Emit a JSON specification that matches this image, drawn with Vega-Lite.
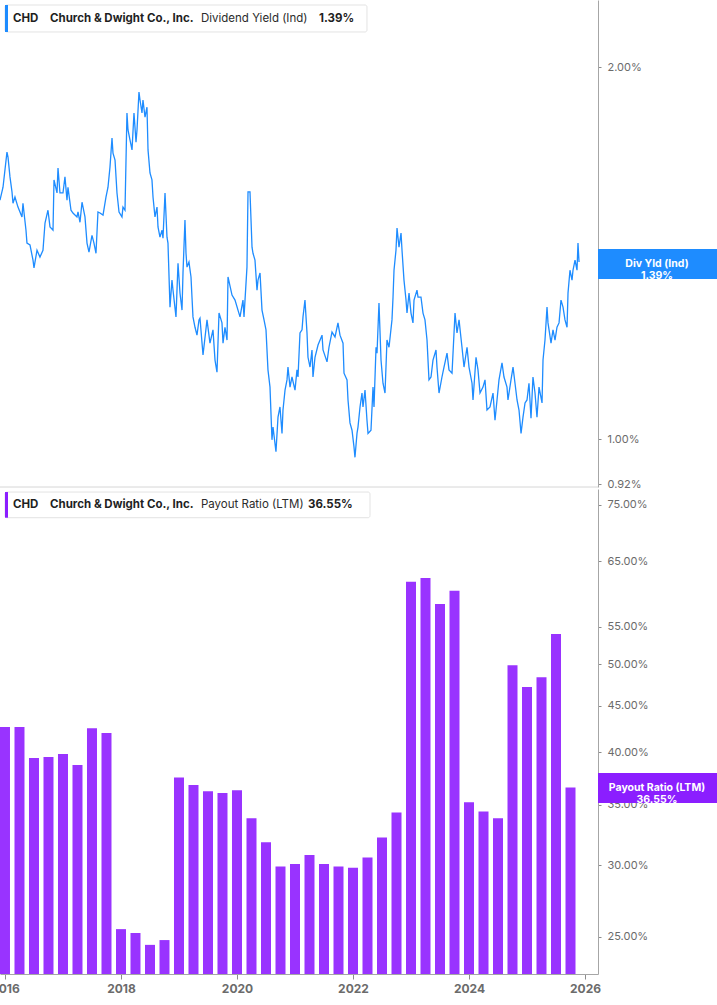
{
  "$schema": "https://vega.github.io/schema/vega-lite/v6.json",
  "width": 598,
  "height": 974,
  "autosize": {"type": "none"},
  "padding": {"left": 0, "top": 0, "right": 119, "bottom": 31},
  "background": "white",
  "config": {"view": {"stroke": null}, "font": "Inter", "axis": {"grid": false}},
  "datasets": {
    "yield": [
      {"t":2015.914,"v":1.561},{"t":2015.966,"v":1.599},{"t":2016.034,"v":1.707},{"t":2016.052,"v":1.691},{"t":2016.086,"v":1.630},{"t":2016.121,"v":1.585},{"t":2016.138,"v":1.552},{"t":2016.172,"v":1.570},{"t":2016.224,"v":1.541},{"t":2016.293,"v":1.513},{"t":2016.310,"v":1.552},{"t":2016.362,"v":1.476},{"t":2016.379,"v":1.441},{"t":2016.431,"v":1.436},{"t":2016.483,"v":1.396},{"t":2016.500,"v":1.376},{"t":2016.552,"v":1.422},{"t":2016.603,"v":1.404},{"t":2016.655,"v":1.422},{"t":2016.690,"v":1.496},{"t":2016.741,"v":1.532},{"t":2016.776,"v":1.485},{"t":2016.828,"v":1.476},{"t":2016.845,"v":1.621},{"t":2016.897,"v":1.582},{"t":2016.914,"v":1.657},{"t":2016.948,"v":1.582},{"t":2017.000,"v":1.582},{"t":2017.034,"v":1.630},{"t":2017.069,"v":1.561},{"t":2017.086,"v":1.599},{"t":2017.138,"v":1.532},{"t":2017.172,"v":1.524},{"t":2017.241,"v":1.513},{"t":2017.259,"v":1.527},{"t":2017.293,"v":1.498},{"t":2017.328,"v":1.555},{"t":2017.379,"v":1.513},{"t":2017.414,"v":1.441},{"t":2017.448,"v":1.417},{"t":2017.500,"v":1.462},{"t":2017.534,"v":1.441},{"t":2017.569,"v":1.414},{"t":2017.603,"v":1.527},{"t":2017.638,"v":1.524},{"t":2017.690,"v":1.518},{"t":2017.741,"v":1.570},{"t":2017.776,"v":1.599},{"t":2017.810,"v":1.660},{"t":2017.845,"v":1.752},{"t":2017.862,"v":1.704},{"t":2017.897,"v":1.682},{"t":2017.931,"v":1.582},{"t":2017.966,"v":1.527},{"t":2018.017,"v":1.513},{"t":2018.034,"v":1.541},{"t":2018.069,"v":1.532},{"t":2018.103,"v":1.836},{"t":2018.121,"v":1.779},{"t":2018.155,"v":1.746},{"t":2018.190,"v":1.714},{"t":2018.224,"v":1.836},{"t":2018.259,"v":1.739},{"t":2018.276,"v":1.779},{"t":2018.310,"v":1.909},{"t":2018.328,"v":1.881},{"t":2018.362,"v":1.836},{"t":2018.379,"v":1.881},{"t":2018.414,"v":1.822},{"t":2018.448,"v":1.856},{"t":2018.466,"v":1.714},{"t":2018.500,"v":1.642},{"t":2018.534,"v":1.621},{"t":2018.552,"v":1.570},{"t":2018.586,"v":1.513},{"t":2018.621,"v":1.541},{"t":2018.638,"v":1.485},{"t":2018.672,"v":1.457},{"t":2018.707,"v":1.476},{"t":2018.724,"v":1.454},{"t":2018.759,"v":1.582},{"t":2018.793,"v":1.457},{"t":2018.810,"v":1.441},{"t":2018.845,"v":1.279},{"t":2018.879,"v":1.345},{"t":2018.897,"v":1.320},{"t":2018.948,"v":1.256},{"t":2018.983,"v":1.388},{"t":2019.017,"v":1.313},{"t":2019.052,"v":1.272},{"t":2019.069,"v":1.363},{"t":2019.103,"v":1.504},{"t":2019.121,"v":1.414},{"t":2019.138,"v":1.378},{"t":2019.172,"v":1.391},{"t":2019.207,"v":1.353},{"t":2019.224,"v":1.303},{"t":2019.241,"v":1.256},{"t":2019.276,"v":1.232},{"t":2019.310,"v":1.214},{"t":2019.345,"v":1.249},{"t":2019.362,"v":1.253},{"t":2019.414,"v":1.170},{"t":2019.483,"v":1.249},{"t":2019.534,"v":1.196},{"t":2019.586,"v":1.226},{"t":2019.621,"v":1.159},{"t":2019.655,"v":1.133},{"t":2019.690,"v":1.265},{"t":2019.741,"v":1.242},{"t":2019.759,"v":1.196},{"t":2019.793,"v":1.232},{"t":2019.828,"v":1.203},{"t":2019.845,"v":1.353},{"t":2019.914,"v":1.308},{"t":2019.966,"v":1.296},{"t":2020.017,"v":1.272},{"t":2020.052,"v":1.256},{"t":2020.103,"v":1.296},{"t":2020.121,"v":1.256},{"t":2020.172,"v":1.378},{"t":2020.190,"v":1.585},{"t":2020.224,"v":1.585},{"t":2020.259,"v":1.430},{"t":2020.276,"v":1.414},{"t":2020.310,"v":1.396},{"t":2020.345,"v":1.320},{"t":2020.362,"v":1.345},{"t":2020.397,"v":1.363},{"t":2020.431,"v":1.272},{"t":2020.466,"v":1.249},{"t":2020.500,"v":1.226},{"t":2020.534,"v":1.138},{"t":2020.569,"v":1.102},{"t":2020.603,"v":0.999},{"t":2020.621,"v":1.023},{"t":2020.672,"v":0.977},{"t":2020.707,"v":1.042},{"t":2020.741,"v":1.062},{"t":2020.776,"v":1.011},{"t":2020.793,"v":1.056},{"t":2020.828,"v":1.096},{"t":2020.862,"v":1.117},{"t":2020.879,"v":1.144},{"t":2020.914,"v":1.102},{"t":2020.948,"v":1.123},{"t":2021.000,"v":1.096},{"t":2021.034,"v":1.138},{"t":2021.052,"v":1.123},{"t":2021.086,"v":1.219},{"t":2021.121,"v":1.226},{"t":2021.138,"v":1.256},{"t":2021.172,"v":1.296},{"t":2021.207,"v":1.219},{"t":2021.224,"v":1.165},{"t":2021.259,"v":1.144},{"t":2021.293,"v":1.181},{"t":2021.310,"v":1.123},{"t":2021.345,"v":1.165},{"t":2021.397,"v":1.192},{"t":2021.466,"v":1.214},{"t":2021.483,"v":1.181},{"t":2021.552,"v":1.155},{"t":2021.586,"v":1.187},{"t":2021.638,"v":1.221},{"t":2021.690,"v":1.210},{"t":2021.741,"v":1.242},{"t":2021.776,"v":1.214},{"t":2021.828,"v":1.196},{"t":2021.845,"v":1.131},{"t":2021.897,"v":1.117},{"t":2021.914,"v":1.076},{"t":2021.948,"v":1.031},{"t":2021.983,"v":1.017},{"t":2022.017,"v":0.986},{"t":2022.034,"v":0.967},{"t":2022.069,"v":1.011},{"t":2022.086,"v":1.023},{"t":2022.121,"v":1.062},{"t":2022.155,"v":1.090},{"t":2022.172,"v":1.062},{"t":2022.207,"v":1.096},{"t":2022.241,"v":1.036},{"t":2022.259,"v":1.011},{"t":2022.310,"v":1.017},{"t":2022.345,"v":1.102},{"t":2022.362,"v":1.062},{"t":2022.397,"v":1.187},{"t":2022.414,"v":1.174},{"t":2022.448,"v":1.289},{"t":2022.483,"v":1.159},{"t":2022.517,"v":1.110},{"t":2022.552,"v":1.090},{"t":2022.586,"v":1.203},{"t":2022.621,"v":1.187},{"t":2022.672,"v":1.249},{"t":2022.690,"v":1.303},{"t":2022.707,"v":1.370},{"t":2022.741,"v":1.422},{"t":2022.759,"v":1.482},{"t":2022.793,"v":1.430},{"t":2022.828,"v":1.468},{"t":2022.845,"v":1.422},{"t":2022.879,"v":1.345},{"t":2022.914,"v":1.296},{"t":2022.931,"v":1.265},{"t":2022.966,"v":1.313},{"t":2023.000,"v":1.265},{"t":2023.034,"v":1.242},{"t":2023.052,"v":1.296},{"t":2023.103,"v":1.320},{"t":2023.121,"v":1.303},{"t":2023.172,"v":1.303},{"t":2023.207,"v":1.265},{"t":2023.241,"v":1.249},{"t":2023.276,"v":1.203},{"t":2023.310,"v":1.117},{"t":2023.345,"v":1.123},{"t":2023.379,"v":1.159},{"t":2023.431,"v":1.181},{"t":2023.448,"v":1.144},{"t":2023.483,"v":1.090},{"t":2023.534,"v":1.123},{"t":2023.569,"v":1.144},{"t":2023.621,"v":1.174},{"t":2023.655,"v":1.138},{"t":2023.707,"v":1.131},{"t":2023.759,"v":1.265},{"t":2023.793,"v":1.219},{"t":2023.828,"v":1.249},{"t":2023.879,"v":1.187},{"t":2023.914,"v":1.144},{"t":2023.966,"v":1.187},{"t":2024.000,"v":1.144},{"t":2024.052,"v":1.110},{"t":2024.069,"v":1.076},{"t":2024.121,"v":1.165},{"t":2024.155,"v":1.138},{"t":2024.190,"v":1.090},{"t":2024.241,"v":1.102},{"t":2024.276,"v":1.117},{"t":2024.310,"v":1.056},{"t":2024.362,"v":1.062},{"t":2024.414,"v":1.090},{"t":2024.448,"v":1.036},{"t":2024.483,"v":1.076},{"t":2024.517,"v":1.117},{"t":2024.569,"v":1.153},{"t":2024.603,"v":1.123},{"t":2024.655,"v":1.102},{"t":2024.672,"v":1.076},{"t":2024.724,"v":1.117},{"t":2024.759,"v":1.144},{"t":2024.793,"v":1.110},{"t":2024.828,"v":1.076},{"t":2024.862,"v":1.056},{"t":2024.897,"v":1.011},{"t":2024.931,"v":1.042},{"t":2024.966,"v":1.070},{"t":2025.000,"v":1.076},{"t":2025.034,"v":1.110},{"t":2025.069,"v":1.040},{"t":2025.103,"v":1.123},{"t":2025.138,"v":1.090},{"t":2025.172,"v":1.042},{"t":2025.207,"v":1.102},{"t":2025.259,"v":1.070},{"t":2025.276,"v":1.159},{"t":2025.310,"v":1.203},{"t":2025.345,"v":1.279},{"t":2025.362,"v":1.242},{"t":2025.414,"v":1.196},{"t":2025.448,"v":1.226},{"t":2025.483,"v":1.203},{"t":2025.517,"v":1.232},{"t":2025.552,"v":1.242},{"t":2025.586,"v":1.296},{"t":2025.621,"v":1.279},{"t":2025.655,"v":1.249},{"t":2025.690,"v":1.232},{"t":2025.707,"v":1.313},{"t":2025.741,"v":1.370},{"t":2025.776,"v":1.345},{"t":2025.793,"v":1.370},{"t":2025.828,"v":1.396},{"t":2025.862,"v":1.370},{"t":2025.879,"v":1.441},{"t":2025.897,"v":1.391}
    ],
    "payout": [
      {"t":2016.00,"p":42.65},{"t":2016.25,"p":42.65},{"t":2016.50,"p":39.4},{"t":2016.75,"p":39.5},
      {"t":2017.00,"p":39.8},{"t":2017.25,"p":38.7},{"t":2017.50,"p":42.5},{"t":2017.75,"p":42.0},
      {"t":2018.00,"p":25.5},{"t":2018.25,"p":25.25},{"t":2018.50,"p":24.5},{"t":2018.75,"p":24.8},
      {"t":2019.00,"p":37.5},{"t":2019.25,"p":36.8},{"t":2019.50,"p":36.2},{"t":2019.75,"p":36.06},
      {"t":2020.00,"p":36.3},{"t":2020.25,"p":33.8},{"t":2020.50,"p":31.8},{"t":2020.75,"p":29.9},
      {"t":2021.00,"p":30.1},{"t":2021.25,"p":30.8},{"t":2021.50,"p":30.1},{"t":2021.75,"p":29.9},
      {"t":2022.00,"p":29.8},{"t":2022.25,"p":30.6},{"t":2022.50,"p":32.2},{"t":2022.75,"p":34.3},
      {"t":2023.00,"p":61.7},{"t":2023.25,"p":62.3},{"t":2023.50,"p":58.3},{"t":2023.75,"p":60.3},
      {"t":2024.00,"p":35.2},{"t":2024.25,"p":34.4},{"t":2024.50,"p":33.8},{"t":2024.75,"p":49.9},
      {"t":2025.00,"p":47.2},{"t":2025.25,"p":48.4},{"t":2025.50,"p":54.0},{"t":2025.75,"p":36.55}
    ]
  },
  "resolve": {"scale": {"y": "independent"}, "axis": {"y": "independent"}},
  "layer": [
    {
      "layer": [
        {
          "data": {"values": [{}]},
          "mark": {"type": "rule", "color": "#d6d6d6", "strokeWidth": 1},
          "encoding": {"y": {"datum": 0.915}}
        },
        {
          "data": {"name": "yield"},
          "mark": {"type": "line", "color": "#1E8CFF", "strokeWidth": 1.3},
          "encoding": {
            "x": {"field": "t", "type": "quantitative",
                  "scale": {"domain": [2015.914, 2026.224], "nice": false, "zero": false, "padding": 0}},
            "y": {"field": "v", "type": "quantitative",
                  "scale": {"type": "log", "domain": [0.915, 2.266], "range": [487, 0], "nice": false, "zero": false},
                  "axis": {"orient": "right", "title": null, "values": [0.92, 1, 2],
                           "labelExpr": "format(datum.value, '.2f') + '%'",
                           "domainColor": "#a6a6a6", "tickColor": "#8c8c8c", "tickSize": 3,
                           "labelColor": "#6b6b6b", "labelFontSize": 11, "labelPadding": 6, "labelFont": "Inter"}}
          }
        },
        {
          "data": {"values": [{}]},
          "mark": {"type": "rect", "fill": "white", "stroke": "#e3e3e3", "strokeWidth": 1, "cornerRadius": 2},
          "encoding": {"x": {"datum": 2016.0}, "x2": {"datum": 2022.241},
                       "y": {"datum": 2.245}, "y2": {"datum": 2.135}}
        },
        {
          "data": {"values": [{}]},
          "mark": {"type": "rect", "fill": "#1E8CFF"},
          "encoding": {"x": {"datum": 2016.0}, "x2": {"datum": 2016.052},
                       "y": {"datum": 2.245}, "y2": {"datum": 2.135}}
        },
        {
          "data": {"values": [{}]},
          "mark": {"type": "text", "align": "left", "baseline": "middle", "fontSize": 11.5, "fontWeight": "bold", "color": "#1f1f1f"},
          "encoding": {"x": {"datum": 2016.138}, "y": {"datum": 2.189}, "text": {"value": "CHD"}}
        },
        {
          "data": {"values": [{}]},
          "mark": {"type": "text", "align": "left", "baseline": "middle", "fontSize": 11.5, "fontWeight": "bold", "color": "#1f1f1f"},
          "encoding": {"x": {"datum": 2016.776}, "y": {"datum": 2.189}, "text": {"value": "Church & Dwight Co., Inc."}}
        },
        {
          "data": {"values": [{}]},
          "mark": {"type": "text", "align": "left", "baseline": "middle", "fontSize": 11.5, "fontWeight": "normal", "color": "#2b2b2b"},
          "encoding": {"x": {"datum": 2019.379}, "y": {"datum": 2.189}, "text": {"value": "Dividend Yield (Ind)"}}
        },
        {
          "data": {"values": [{}]},
          "mark": {"type": "text", "align": "left", "baseline": "middle", "fontSize": 11.5, "fontWeight": "bold", "color": "#1f1f1f"},
          "encoding": {"x": {"datum": 2021.414}, "y": {"datum": 2.189}, "text": {"value": "1.39%"}}
        },
        {
          "data": {"values": [{}]},
          "mark": {"type": "rect", "fill": "#1E8CFF"},
          "encoding": {"x": {"datum": 2026.224}, "x2": {"datum": 2028.276},
                       "y": {"datum": 1.425}, "y2": {"datum": 1.348}}
        },
        {
          "data": {"values": [{}]},
          "mark": {"type": "text", "align": "center", "baseline": "middle", "fontSize": 10.5, "fontWeight": "bold", "color": "white", "lineHeight": 12},
          "encoding": {"x": {"datum": 2027.241}, "y": {"datum": 1.385}, "text": {"value": ["Div Yld (Ind)", "1.39%"]}}
        }
      ]
    },
    {
      "layer": [
        {
          "data": {"name": "payout"},
          "mark": {"type": "bar", "color": "#9933FF", "width": 10},
          "encoding": {
            "x": {"field": "t", "type": "quantitative",
                  "scale": {"domain": [2015.914, 2026.224], "nice": false, "zero": false, "padding": 0},
                  "axis": {"values": [2016, 2018, 2020, 2022, 2024, 2026], "format": "d", "title": null,
                           "labelFlush": false, "labelFontWeight": "bold", "labelColor": "#6b6b6b", "labelFontSize": 12,
                           "labelFont": "Inter", "tickSize": 5, "tickColor": "#8c8c8c", "domainColor": "#a6a6a6", "labelPadding": 4}},
            "y": {"field": "p", "type": "quantitative",
                  "scale": {"type": "log", "domain": [22.75, 78.1], "range": [974, 489], "nice": false, "zero": false},
                  "axis": {"orient": "right", "title": null, "values": [25, 30, 35, 40, 45, 50, 55, 65, 75],
                           "labelExpr": "format(datum.value, '.2f') + '%'",
                           "domainColor": "#a6a6a6", "tickColor": "#8c8c8c", "tickSize": 3,
                           "labelColor": "#6b6b6b", "labelFontSize": 11, "labelPadding": 6, "labelFont": "Inter"}},
            "y2": {"datum": 22.75}
          }
        },
        {
          "data": {"values": [{}]},
          "mark": {"type": "rect", "fill": "white", "stroke": "#e3e3e3", "strokeWidth": 1, "cornerRadius": 2},
          "encoding": {"x": {"datum": 2016.0}, "x2": {"datum": 2022.293},
                       "y": {"datum": 77.5}, "y2": {"datum": 72.6}}
        },
        {
          "data": {"values": [{}]},
          "mark": {"type": "rect", "fill": "#8B1EFF"},
          "encoding": {"x": {"datum": 2016.0}, "x2": {"datum": 2016.052},
                       "y": {"datum": 77.5}, "y2": {"datum": 72.6}}
        },
        {
          "data": {"values": [{}]},
          "mark": {"type": "text", "align": "left", "baseline": "middle", "fontSize": 11.5, "fontWeight": "bold", "color": "#1f1f1f"},
          "encoding": {"x": {"datum": 2016.138}, "y": {"datum": 75.0}, "text": {"value": "CHD"}}
        },
        {
          "data": {"values": [{}]},
          "mark": {"type": "text", "align": "left", "baseline": "middle", "fontSize": 11.5, "fontWeight": "bold", "color": "#1f1f1f"},
          "encoding": {"x": {"datum": 2016.776}, "y": {"datum": 75.0}, "text": {"value": "Church & Dwight Co., Inc."}}
        },
        {
          "data": {"values": [{}]},
          "mark": {"type": "text", "align": "left", "baseline": "middle", "fontSize": 11.5, "fontWeight": "normal", "color": "#2b2b2b"},
          "encoding": {"x": {"datum": 2019.379}, "y": {"datum": 75.0}, "text": {"value": "Payout Ratio (LTM)"}}
        },
        {
          "data": {"values": [{}]},
          "mark": {"type": "text", "align": "left", "baseline": "middle", "fontSize": 11.5, "fontWeight": "bold", "color": "#1f1f1f"},
          "encoding": {"x": {"datum": 2021.224}, "y": {"datum": 75.0}, "text": {"value": "36.55%"}}
        },
        {
          "data": {"values": [{}]},
          "mark": {"type": "rect", "fill": "#8B1EFF"},
          "encoding": {"x": {"datum": 2026.224}, "x2": {"datum": 2028.276},
                       "y": {"datum": 37.94}, "y2": {"datum": 35.15}}
        },
        {
          "data": {"values": [{}]},
          "mark": {"type": "text", "align": "center", "baseline": "middle", "fontSize": 10.5, "fontWeight": "bold", "color": "white", "lineHeight": 12},
          "encoding": {"x": {"datum": 2027.241}, "y": {"datum": 36.52}, "text": {"value": ["Payout Ratio (LTM)", "36.55%"]}}
        }
      ]
    }
  ]
}
